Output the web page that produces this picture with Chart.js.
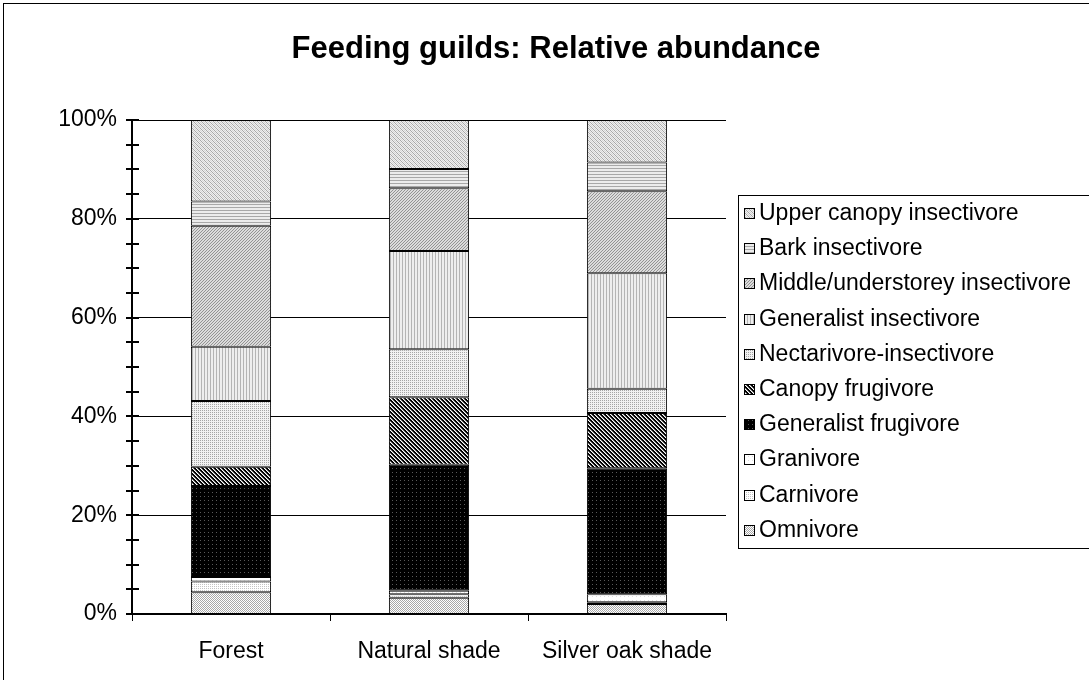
<!DOCTYPE html>
<html>
<head>
<meta charset="utf-8">
<script src="https://cdn.jsdelivr.net/npm/chart.js@4.4.1/dist/chart.umd.min.js"></script>
<style>
  html, body { margin: 0; padding: 0; background: #ffffff; }
  #wrap { width: 1089px; height: 680px; position: relative; }
</style>
</head>
<body>
<div id="wrap"><canvas id="c" width="1089" height="680"></canvas></div>
<script>
// Sites along the x axis
const sites = ['Forest', 'Natural shade', 'Silver oak shade'];

// Feeding guilds, bottom of the stack first
const guilds = [
  'Omnivore', 'Carnivore', 'Granivore', 'Generalist frugivore', 'Canopy frugivore',
  'Nectarivore-insectivore', 'Generalist insectivore', 'Middle/understorey insectivore',
  'Bark insectivore', 'Upper canopy insectivore'
];

// Relative abundance (%) per site: Forest, Natural shade, Silver oak shade
const omnivore               = [4.4, 3.3, 2.0];
const carnivore              = [2.2, 0.7, 0.4];
const granivore              = [0.9, 0.7, 1.6];
const generalistFrugivore    = [18.4, 25.5, 25.5];
const canopyFrugivore        = [3.9, 13.7, 11.2];
const nectarivoreInsectivore = [13.3, 9.7, 4.9];
const generalistInsectivore  = [11.0, 19.9, 23.4];
const middleInsectivore      = [24.5, 12.7, 16.6];
const barkInsectivore        = [4.9, 3.9, 5.8];
const upperCanopyInsectivore = [16.5, 9.9, 8.6];

// Labelled ticks on the percentage axis
const yTickLabels = [0, 20, 40, 60, 80, 100];

const seriesValues = [
  omnivore, carnivore, granivore, generalistFrugivore, canopyFrugivore,
  nectarivoreInsectivore, generalistInsectivore, middleInsectivore,
  barkInsectivore, upperCanopyInsectivore
];

// Small repeating monochrome fills, one per guild
function makePattern(size, bg, rules) {
  const c = document.createElement('canvas');
  c.width = size; c.height = size;
  const g = c.getContext('2d');
  g.fillStyle = bg;
  g.fillRect(0, 0, size, size);
  for (let y = 0; y < size; y++) {
    for (let x = 0; x < size; x++) {
      for (const [test, col] of rules) {
        if (test(x, y)) { g.fillStyle = col; g.fillRect(x, y, 1, 1); break; }
      }
    }
  }
  return document.getElementById('c').getContext('2d').createPattern(c, 'repeat');
}
const mod = (a, n) => ((a % n) + n) % n;

const fills = [
  // Omnivore: grey checker dots
  makePattern(4, '#ffffff', [[(x, y) => mod(x + y, 2) === 0, '#a8a8a8']]),
  // Carnivore: light sparse dots
  makePattern(4, '#ffffff', [[(x, y) => x % 2 === 0 && y % 2 === 0, '#c4c4c4']]),
  // Granivore: almost white
  makePattern(4, '#ffffff', [[(x, y) => x === 0 && y === 0, '#dddddd']]),
  // Generalist frugivore: black with faint dots
  makePattern(4, '#000000', [[(x, y) => x === 0 && y === 0, '#5a5a5a']]),
  // Canopy frugivore: dark downward diagonal
  makePattern(4, '#000000', [[(x, y) => mod(x - y, 4) === 0, '#ffffff'], [(x, y) => mod(x - y, 4) === 1, '#8a8a8a']]),
  // Nectarivore-insectivore: light dotted grid
  makePattern(4, '#f2f2f2', [[(x, y) => x % 2 === 0 && y % 2 === 0, '#a6a6a6']]),
  // Generalist insectivore: vertical hatch
  makePattern(3, '#eeeeee', [[(x, y) => x === 0, '#b4b4b4']]),
  // Middle/understorey insectivore: upward diagonal
  makePattern(3, '#dcdcdc', [[(x, y) => mod(x + y, 3) === 0, '#939393']]),
  // Bark insectivore: horizontal hatch
  makePattern(3, '#ececec', [[(x, y) => y === 0, '#a8a8a8']]),
  // Upper canopy insectivore: light downward diagonal
  makePattern(4, '#efefef', [[(x, y) => mod(x - y, 4) === 0, '#a8a8a8'], [(x, y) => mod(x - y, 4) === 2, '#d4d4d4']])
];

const datasets = guilds.map((name, i) => ({
  label: name,
  data: seriesValues[i],
  backgroundColor: fills[i],
  borderColor: '#000000',
  borderWidth: 1,
  borderSkipped: false,
  barPercentage: 0.405,
  categoryPercentage: 1.0
}));

const FONT = '"Liberation Sans", Arial, sans-serif';

// Frame, title, crossing tick marks and the boxed legend
const decorations = {
  id: 'decorations',
  beforeDraw(chart) {
    const ctx = chart.ctx;
    ctx.save();
    ctx.fillStyle = '#ffffff';
    ctx.fillRect(0, 0, chart.width, chart.height);
    ctx.strokeStyle = '#000000';
    ctx.lineWidth = 1;
    ctx.strokeRect(3.5, 3.5, chart.width + 20, chart.height + 20);
    ctx.restore();
  },
  afterDraw(chart) {
    const ctx = chart.ctx;
    const y = chart.scales.y;
    const axisX = y.right;
    ctx.save();

    // title
    ctx.fillStyle = '#000000';
    ctx.font = 'bold 31px ' + FONT;
    ctx.textAlign = 'center';
    ctx.textBaseline = 'middle';
    ctx.fillText('Feeding guilds: Relative abundance', 556, 49);

    // tick marks straddling the value axis
    ctx.strokeStyle = '#000000';
    ctx.lineWidth = 2;
    y.ticks.forEach(t => {
      const py = Math.round(y.getPixelForValue(t.value));
      ctx.beginPath();
      ctx.moveTo(axisX - 6, py);
      ctx.lineTo(axisX + 7, py);
      ctx.stroke();
    });

    // legend, top entry = top of the stack
    const lx = 738, ly = 195, lh = 353, rowH = 35.2;
    ctx.lineWidth = 1;
    ctx.strokeStyle = '#000000';
    ctx.strokeRect(lx + 0.5, ly + 0.5, 400, lh);
    ctx.font = '23px ' + FONT;
    ctx.textAlign = 'left';
    ctx.textBaseline = 'middle';
    const items = chart.data.datasets.slice().reverse();
    items.forEach((ds, i) => {
      const cy = Math.round(ly + 18 + i * rowH);
      ctx.fillStyle = ds.backgroundColor;
      ctx.fillRect(744, cy - 5, 11, 11);
      ctx.strokeStyle = '#000000';
      ctx.strokeRect(744.5, cy - 4.5, 10, 10);
      ctx.fillStyle = '#000000';
      ctx.fillText(ds.label, 759, cy + 1);
    });
    ctx.restore();
  }
};

new Chart(document.getElementById('c'), {
  type: 'bar',
  data: { labels: sites, datasets },
  options: {
    responsive: false,
    animation: false,
    devicePixelRatio: 1,
    layout: { padding: { top: 120, right: 363, bottom: 16, left: 41 } },
    plugins: {
      legend: { display: false },
      title: { display: false },
      tooltip: { enabled: false }
    },
    scales: {
      x: {
        stacked: true,
        offset: true,
        afterFit(scale) { scale.height = 50; },
        border: { display: true, color: '#000000', width: 2 },
        grid: { offset: true, drawOnChartArea: false, drawTicks: true, tickLength: 7, color: '#000000', lineWidth: 1 },
        ticks: { color: '#000000', font: { family: FONT, size: 23 }, padding: 17, maxRotation: 0 }
      },
      y: {
        stacked: true,
        min: 0,
        max: 100,
        afterFit(scale) { scale.width = 91; },
        border: { display: true, color: '#000000', width: 2 },
        grid: {
          drawTicks: false,
          color: '#000000',
          lineWidth: c => (yTickLabels.includes(c.tick.value) && c.tick.value !== 0 ? 1 : 0)
        },
        ticks: {
          stepSize: 5,
          autoSkip: false,
          padding: 15,
          color: '#000000',
          font: { family: FONT, size: 23 },
          callback: v => (yTickLabels.includes(v) ? v + '%' : '')
        }
      }
    }
  },
  plugins: [decorations]
});
</script>
</body>
</html>
